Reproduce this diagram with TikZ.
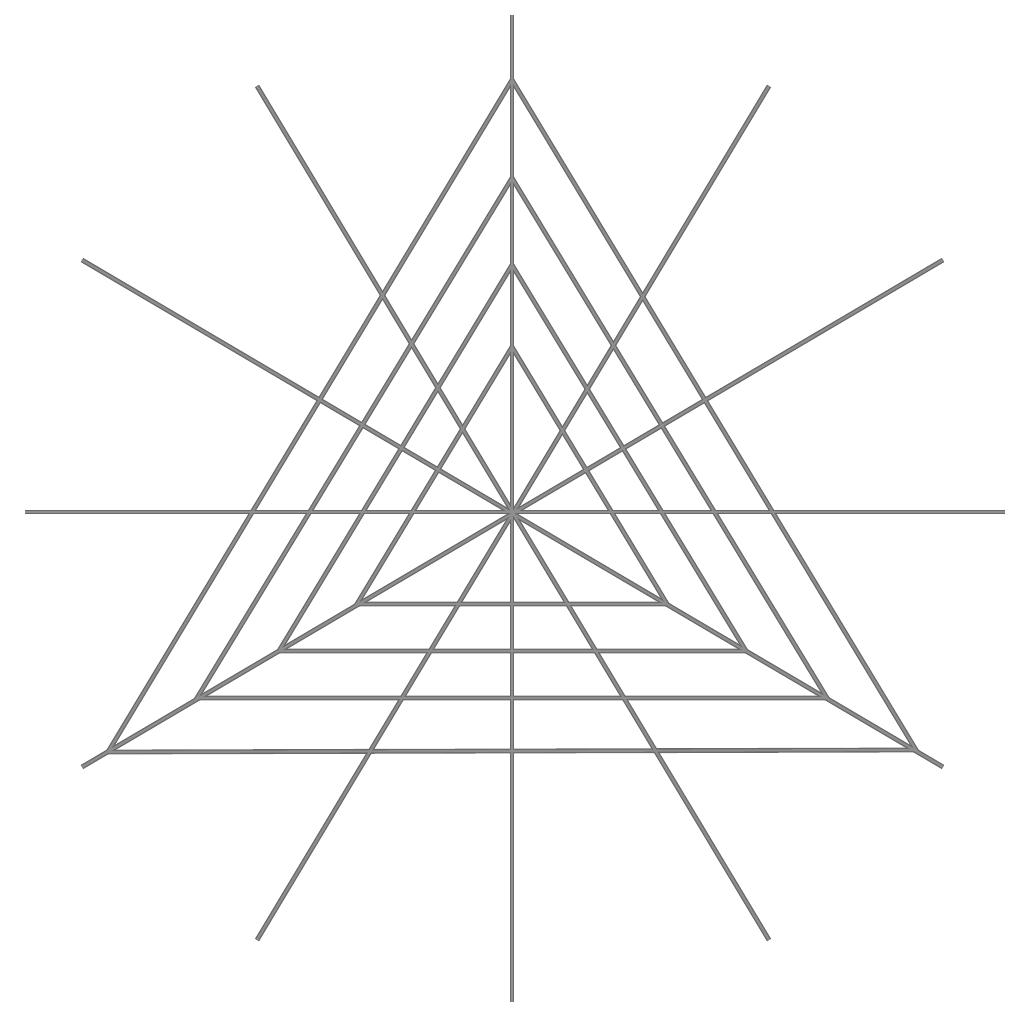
\documentclass[tikz,border=0pt]{standalone}
\definecolor{lineout}{HTML}{6A6A6A}
\definecolor{linein}{HTML}{8E8E8E}
\tikzset{
  web/.style={draw=lineout, line width=3.6pt, line join=miter},
  webin/.style={draw=linein, line width=1.6pt, line join=miter}
}
\begin{document}
\begin{tikzpicture}[x=0.75pt,y=-0.75pt]
\useasboundingbox (0,0) rectangle (1024,1024);
\coordinate (c) at (512,512);
% ray ends
\coordinate (r0) at (1005,512);
\coordinate (r1) at (943,260);
\coordinate (r2) at (769,86);
\coordinate (r3) at (512,15);
\coordinate (r4) at (257,86);
\coordinate (r5) at (82,260);
\coordinate (r6) at (25,512);
\coordinate (r7) at (82,767);
\coordinate (r8) at (257,940);
\coordinate (r9) at (512,1002);
\coordinate (r10) at (769,940);
\coordinate (r11) at (943,767);
% triangles
\coordinate (a1) at (512,80);  \coordinate (b1) at (108,752); \coordinate (d1) at (916,750);
\coordinate (a2) at (512,178); \coordinate (b2) at (197,698); \coordinate (d2) at (827,698);
\coordinate (a3) at (512,265); \coordinate (b3) at (279,651); \coordinate (d3) at (746,651);
\coordinate (a4) at (512,347); \coordinate (b4) at (357,604); \coordinate (d4) at (667,604);
\foreach \s in {web,webin}{
  \draw[\s] (r0) -- (r6);
  \draw[\s] (r3) -- (r9);
  \draw[\s] (r1) -- (r7);
  \draw[\s] (r5) -- (r11);
  \draw[\s] (r2) -- (r8);
  \draw[\s] (r4) -- (r10);
  \foreach \i in {1,2,3,4}{
    \draw[\s] (a\i) -- (b\i) -- (d\i) -- cycle;
  }
}
\end{tikzpicture}
\end{document}
